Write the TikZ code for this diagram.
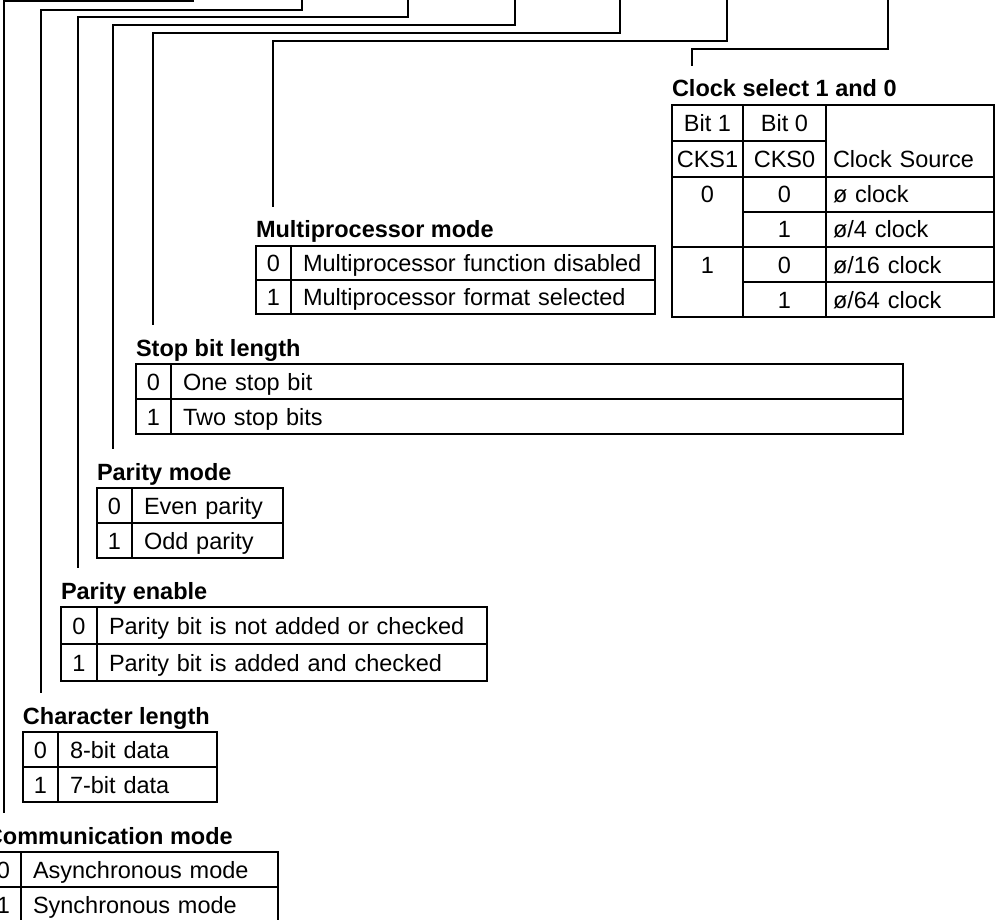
\documentclass[tikz,border=0pt]{standalone}
\usepackage{fontspec}
\setmainfont{Liberation Sans}
\usetikzlibrary{positioning}

\newcommand{\regfont}{\fontsize{23.5}{28}\selectfont}

\tikzset{
  lead/.style={draw, line width=1.2pt},
  ttl/.style={font={\regfont\bfseries}, inner sep=0pt, outer xsep=0pt, outer ysep=14pt},
  cell/.style={draw, line width=1.2pt, inner sep=0pt, outer sep=0pt,
               minimum height=35pt, text height=17pt, text depth=0pt},
  bitcell/.style={cell, minimum width=35pt},
  desc/.style={cell, inner xsep=12pt, text width=#1, align=left},
}

\begin{document}
\begin{tikzpicture}[x=1pt, y=-1pt, font=\regfont]
\useasboundingbox (0,0) rectangle (996,920);
\clip (0,0) rectangle (996,920);

% Communication mode
\node[bitcell, anchor=north west] (cm0b) at (-14,852) {0};
\node[desc=233pt, right=0pt of cm0b] (cm0d) {Asynchronous mode};
\node[bitcell, below=0pt of cm0b] (cm1b) {1};
\node[desc=233pt, right=0pt of cm1b] (cm1d) {Synchronous mode};
\node[ttl, above=8pt of cm0b.north west, anchor=base west] (cmTitle) {Communication mode};

% Character length
\node[bitcell, anchor=north west] (chr0b) at (23,732) {0};
\node[desc=135pt, right=0pt of chr0b] (chr0d) {8-bit data};
\node[bitcell, below=0pt of chr0b] (chr1b) {1};
\node[desc=135pt, right=0pt of chr1b] (chr1d) {7-bit data};
\node[ttl, above=8pt of chr0b.north west, anchor=base west] (chrTitle) {Character length};

% Parity enable
\node[bitcell, minimum width=36pt, minimum height=37pt, anchor=north west] (pe0b) at (61,607) {0};
\node[desc=366pt, minimum height=37pt, right=0pt of pe0b] (pe0d) {Parity bit is not added or checked};
\node[bitcell, minimum width=36pt, minimum height=37pt, below=0pt of pe0b] (pe1b) {1};
\node[desc=366pt, minimum height=37pt, right=0pt of pe1b] (pe1d) {Parity bit is added and checked};
\node[ttl, above=8pt of pe0b.north west, anchor=base west] (peTitle) {Parity enable};

% Parity mode
\node[bitcell, anchor=north west] (oe0b) at (97,488) {0};
\node[desc=127pt, right=0pt of oe0b] (oe0d) {Even parity};
\node[bitcell, below=0pt of oe0b] (oe1b) {1};
\node[desc=127pt, right=0pt of oe1b] (oe1d) {Odd parity};
\node[ttl, above=8pt of oe0b.north west, anchor=base west] (oeTitle) {Parity mode};

% Stop bit length
\node[bitcell, anchor=north west] (stop0b) at (136,364) {0};
\node[desc=708pt, right=0pt of stop0b] (stop0d) {One stop bit};
\node[bitcell, below=0pt of stop0b] (stop1b) {1};
\node[desc=708pt, right=0pt of stop1b] (stop1d) {Two stop bits};
\node[ttl, above=8pt of stop0b.north west, anchor=base west] (stopTitle) {Stop bit length};

% Multiprocessor mode
\node[bitcell, minimum height=34pt, anchor=north west] (mp0b) at (256,246) {0};
\node[desc=340pt, minimum height=34pt, right=0pt of mp0b] (mp0d) {Multiprocessor function disabled};
\node[bitcell, minimum height=34pt, below=0pt of mp0b] (mp1b) {1};
\node[desc=340pt, minimum height=34pt, right=0pt of mp1b] (mp1d) {Multiprocessor format selected};
\node[ttl, above=8pt of mp0b.north west, anchor=base west] (mpTitle) {Multiprocessor mode};

% Clock select 1 and 0
\node[cell, minimum width=71pt, minimum height=36pt, anchor=north west] (ckB1) at (672,105) {Bit 1};
\node[cell, minimum width=83pt, minimum height=36pt, right=0pt of ckB1] (ckB0) {Bit 0};
\node[cell, minimum width=71pt, minimum height=36pt, below=0pt of ckB1] (ckC1) {CKS1};
\node[cell, minimum width=83pt, minimum height=36pt, below=0pt of ckB0] (ckC0) {CKS0};
\node[cell, minimum height=72pt, text height=53pt, inner xsep=7pt, text width=154pt, align=left,
      anchor=north west] (ckSrc) at (ckB0.north east) {Clock Source};
\node[cell, minimum width=71pt, minimum height=70pt, text depth=35pt, below=0pt of ckC1] (ck1a) {0};
\node[cell, minimum width=83pt, below=0pt of ckC0] (ck0a) {0};
\node[desc=154pt, inner xsep=7pt, right=0pt of ck0a] (ckSa) {ø clock};
\node[cell, minimum width=83pt, below=0pt of ck0a] (ck0b) {1};
\node[desc=154pt, inner xsep=7pt, right=0pt of ck0b] (ckSb) {ø/4 clock};
\node[cell, minimum width=71pt, minimum height=70pt, text depth=35pt, below=0pt of ck1a] (ck1b) {1};
\node[cell, minimum width=83pt, below=0pt of ck0b] (ck0c) {0};
\node[desc=154pt, inner xsep=7pt, right=0pt of ck0c] (ckSc) {ø/16 clock};
\node[cell, minimum width=83pt, below=0pt of ck0c] (ck0d) {1};
\node[desc=154pt, inner xsep=7pt, right=0pt of ck0d] (ckSd) {ø/64 clock};
\node[ttl, above=8pt of ckB1.north west, anchor=base west] (ckTitle) {Clock select 1 and 0};

% leader lines from the register bits
\coordinate (b7) at (193,-5); \coordinate (k7) at (4,1);
\coordinate (b6) at (302,-5); \coordinate (k6) at (41,10);
\coordinate (b5) at (408,-5); \coordinate (k5) at (78,17);
\coordinate (b4) at (515,-5); \coordinate (k4) at (113,25);
\coordinate (b3) at (620,-5); \coordinate (k3) at (153,33);
\coordinate (b2) at (727,-5); \coordinate (k2) at (273,41);
\coordinate (b0) at (888,-5); \coordinate (k0) at (692,49);

\draw[lead] (b7) |- (k7) -- (k7 |- cmTitle.north);
\draw[lead] (b6) |- (k6) -- (k6 |- chrTitle.north);
\draw[lead] (b5) |- (k5) -- (k5 |- peTitle.north);
\draw[lead] (b4) |- (k4) -- (k4 |- oeTitle.north);
\draw[lead] (b3) |- (k3) -- (k3 |- stopTitle.north);
\draw[lead] (b2) |- (k2) -- (k2 |- mpTitle.north);
\draw[lead] (b0) |- (k0) -- (k0 |- ckTitle.north);
\end{tikzpicture}
\end{document}
